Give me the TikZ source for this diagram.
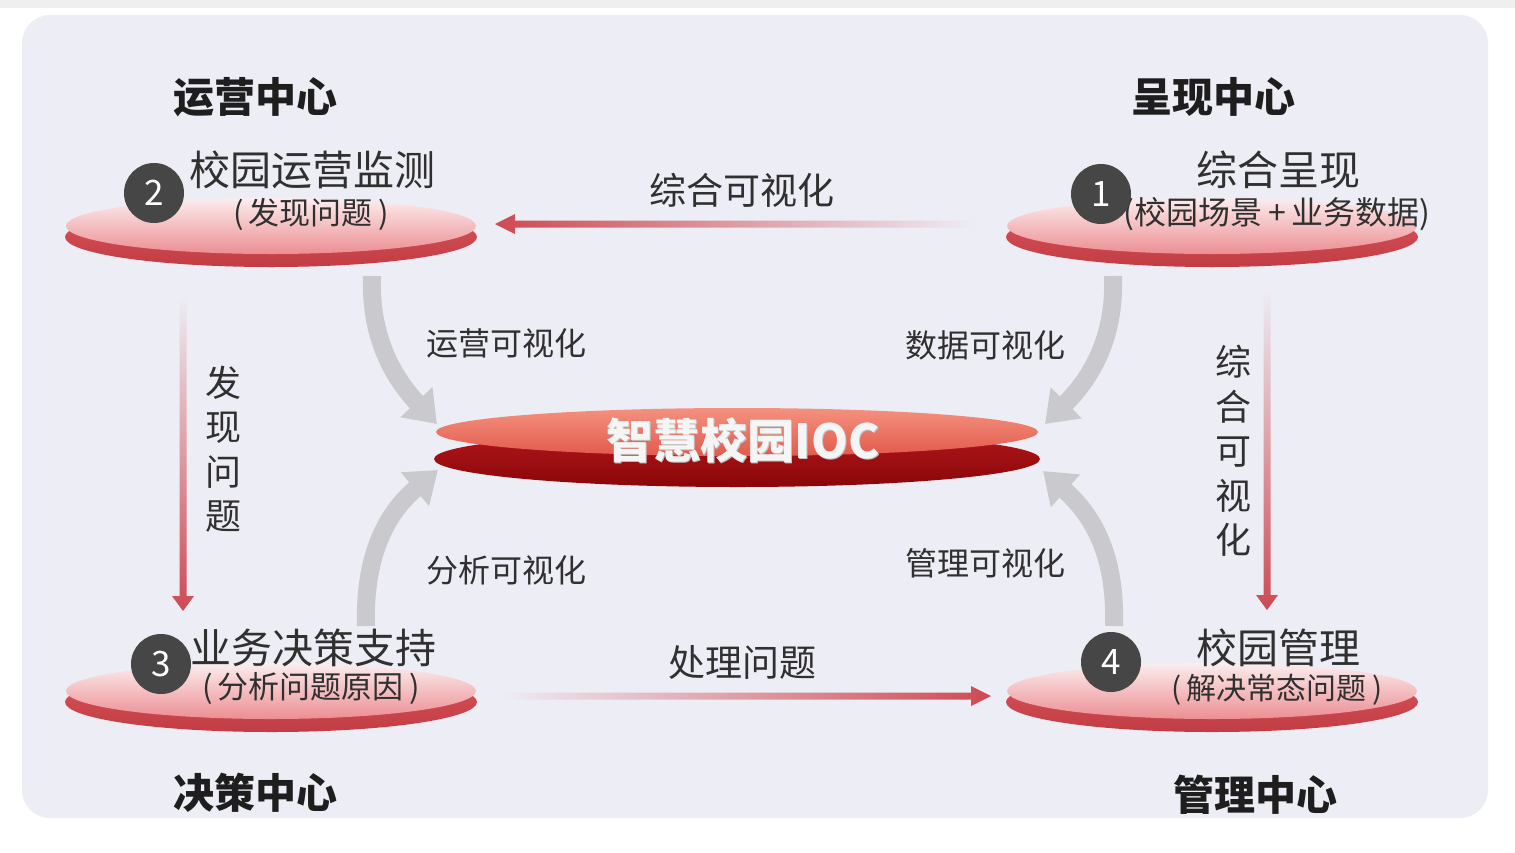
\documentclass[tikz,border=0pt]{standalone}
\usepackage{fontspec}
\setmainfont{Noto Sans CJK SC}
\usetikzlibrary{shapes.geometric,arrows.meta}
\definecolor{bg}{HTML}{EDEDF5}
\definecolor{topgray}{HTML}{EFEFEF}
\definecolor{faceA}{HTML}{FCEDEE}
\definecolor{faceB}{HTML}{EC8E92}
\definecolor{rimA}{HTML}{DA545B}
\definecolor{rimB}{HTML}{C23C43}
\definecolor{iocfaceA}{HTML}{F4917F}
\definecolor{iocfaceB}{HTML}{E25A4B}
\definecolor{iocrimA}{HTML}{B2171B}
\definecolor{iocrimB}{HTML}{8A0609}
\definecolor{numgray}{HTML}{464646}
\definecolor{txt}{HTML}{303030}
\definecolor{ttl}{HTML}{1E1E1E}
\definecolor{arrred}{HTML}{CE4A52}
\definecolor{arrgray}{HTML}{CACACE}
\tikzset{
  discrim/.style={ellipse, inner sep=0, minimum width=412, minimum height=60, top color=rimA, bottom color=rimB},
  discface/.style={ellipse, inner sep=0, minimum width=410, minimum height=56, top color=faceA, bottom color=faceB},
  numc/.style={circle, fill=numgray, inner sep=0, minimum size=60, text=white, font=\fontsize{35}{40}\selectfont},
  bigtxt/.style={inner sep=0, text=txt, font=\fontsize{41}{48}\selectfont},
  subtxt/.style={inner sep=0, text=txt, font=\fontsize{#1}{#1}\selectfont},
  ttltxt/.style={inner sep=0, text=ttl, font=\fontsize{41}{48}\selectfont\bfseries},
  lbltxt/.style={inner sep=0, text=txt, font=\fontsize{#1}{#1}\selectfont},
  vlbl/.style={inner sep=0, text=txt, align=center, font=\fontsize{36}{44.5}\selectfont},
  grayarrow/.style={line width=18, color=arrgray, -{Triangle[width=42,length=30]}},
}
\begin{document}
\begin{tikzpicture}[x=1pt,y=-1pt]
\useasboundingbox (0,0) rectangle (1515,852);
\fill[white] (0,0) rectangle (1515,852);
\fill[topgray] (0,0) rectangle (1515,8);
\fill[bg, rounded corners=28] (22,15) rectangle (1488,818);

% titles
\node[ttltxt] (t1) at (255,97) {运营中心};
\node[ttltxt] (t2) at (1213,97) {呈现中心};
\node[ttltxt] (t3) at (255,793) {决策中心};
\node[ttltxt] (t4) at (1255,795) {管理中心};

% discs
\node[discrim] (r2) at (271,237) {};
\node[discface] (d2) at (271,226) {};
\node[discrim] (r1) at (1212,237) {};
\node[discface] (d1) at (1212,226) {};
\node[discrim] (r3) at (271,702) {};
\node[discface] (d3) at (271,691) {};
\node[discrim] (r4) at (1212,702) {};
\node[discface] (d4) at (1212,691) {};

% central disc
\node[ellipse, inner sep=0, minimum width=606, minimum height=56, top color=iocrimA, bottom color=iocrimB] (iocr) at (737,459) {};
\node[ellipse, inner sep=0, minimum width=602, minimum height=48, top color=iocfaceA, bottom color=iocfaceB] (ioc) at (737,432) {};
\node[inner sep=0, text=black!25, font=\fontsize{47}{50}\selectfont\bfseries] at (744,441) {智慧校园IOC};
\node[inner sep=0, text=white!96!black, font=\fontsize{47}{50}\selectfont\bfseries] (iocl) at (743,440) {智慧校园IOC};

% node texts
\node[bigtxt] (n2a) at (312,170) {校园运营监测};
\node[subtxt=31] (n2b) at (311,214) {(\,发现问题\,)};
\node[bigtxt] (n1a) at (1278,170) {综合呈现};
\node[subtxt=32] (n1b) at (1277,214) {(校园场景\,+\,业务数据)};
\node[bigtxt] (n3a) at (313,648) {业务决策支持};
\node[subtxt=31] (n3b) at (311,689) {(\,分析问题原因\,)};
\node[bigtxt] (n4a) at (1278,648) {校园管理};
\node[subtxt=30] (n4b) at (1277,690) {(\,解决常态问题\,)};

% number circles
\node[numc] (c2) at (154,193) {2};
\node[numc] (c1) at (1101,194) {1};
\node[numc] (c3) at (161,664) {3};
\node[numc] (c4) at (1111,662) {4};

% gradient arrows (straight)
\coordinate (h1tip) at (495,224);
\shade[left color=arrred, right color=bg] (h1tip) -- ++(20,-10) -- ++(0,6.5) -- ++(460,0) -- ++(0,7) -- ++(-460,0) -- ++(0,6.5) -- cycle;
\coordinate (h2tip) at (991,696);
\shade[right color=arrred, left color=bg] (h2tip) -- ++(-20,-10) -- ++(0,6.5) -- ++(-470,0) -- ++(0,7) -- ++(470,0) -- ++(0,6.5) -- cycle;
\coordinate (v1tip) at (183,611);
\shade[bottom color=arrred, top color=bg] (v1tip) -- ++(-11,-15) -- ++(7.5,0) -- ++(0,-300) -- ++(7,0) -- ++(0,300) -- ++(7.5,0) -- cycle;
\coordinate (v2tip) at (1267,610);
\shade[bottom color=arrred, top color=bg] (v2tip) -- ++(-11,-15) -- ++(7.5,0) -- ++(0,-305) -- ++(7,0) -- ++(0,305) -- ++(7.5,0) -- cycle;

% gray curved arrows
\coordinate (g1s) at (372,276);
\coordinate (g1e) at (437,424);
\draw[grayarrow] (g1s) .. controls (370,330) and (388,372) .. (g1e);
\coordinate (g2s) at (1113,276);
\coordinate (g2e) at (1045,424);
\draw[grayarrow] (g2s) .. controls (1115,330) and (1097,372) .. (g2e);
\coordinate (g3s) at (366,626);
\coordinate (g3e) at (438,470);
\draw[grayarrow] (g3s) .. controls (364,560) and (384,515) .. (g3e);
\coordinate (g4s) at (1114,626);
\coordinate (g4e) at (1043,471);
\draw[grayarrow] (g4s) .. controls (1116,560) and (1096,518) .. (g4e);

% labels
\node[lbltxt=37] (l1) at (742,190) {综合可视化};
\node[lbltxt=37] (l2) at (742,662) {处理问题};
\node[lbltxt=32] (l3) at (506,343) {运营可视化};
\node[lbltxt=32] (l4) at (985,345) {数据可视化};
\node[lbltxt=32] (l5) at (506,570) {分析可视化};
\node[lbltxt=32] (l6) at (985,563) {管理可视化};
\node[vlbl] (l7) at (223,449) {发\\现\\问\\题};
\node[vlbl] (l8) at (1233,451) {综\\合\\可\\视\\化};
\end{tikzpicture}
\end{document}
